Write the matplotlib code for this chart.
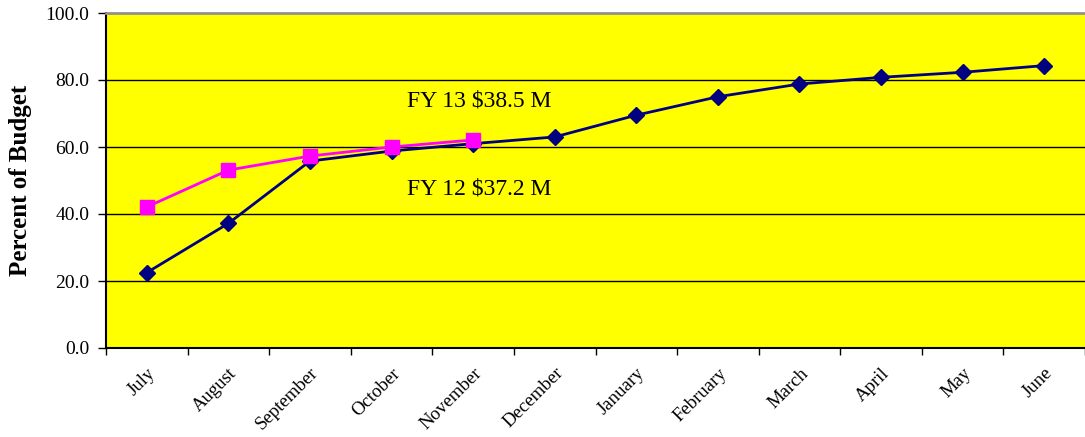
import matplotlib
matplotlib.use("Agg")
import matplotlib.pyplot as plt
import numpy as np

# Months on the category axis
months = ["July", "August", "September", "October", "November", "December",
          "January", "February", "March", "April", "May", "June"]

# Percent of budget spent, cumulative
fy12 = [22.5, 37.2, 55.8, 58.8, 61.0, 63.0, 69.5, 75.0, 78.8, 80.8, 82.3, 84.3]
fy13 = [42.1, 53.1, 57.3, 60.0, 62.1]

yticks = [0, 20, 40, 60, 80, 100]

plt.rcParams['font.family'] = ['Liberation Serif', 'DejaVu Serif']

fig = plt.figure(figsize=(10.85, 4.37), dpi=100)
ax = fig.add_axes([106 / 1085, 89 / 437, 979 / 1085, 335 / 437])
ax.set_facecolor('#FFFF00')

x = np.arange(len(months))
ax.plot(x, fy12, color='#000080', lw=2, marker='D', ms=8, zorder=3)
ax.plot(x[:len(fy13)], fy13, color='#FF00FF', lw=2, marker='s', ms=10, zorder=4)

ax.set_xlim(-0.5, len(months) - 0.5)
ax.set_ylim(0, 100)
ax.set_yticks(yticks)
ax.set_yticklabels([f"{v:.1f}" for v in yticks], fontsize=14)
for v in yticks[1:-1]:
    ax.axhline(v, color='black', lw=1, zorder=1)

# category labels centred, ticks at the boundaries
ax.set_xticks(x)
ax.set_xticklabels(months, rotation=45, ha='right', va='top',
                   rotation_mode='anchor', fontsize=13.5)
ax.tick_params(axis='x', length=0, pad=12)
ax.set_xticks(np.arange(-0.5, len(months), 1), minor=True)
ax.tick_params(axis='x', which='minor', length=5, width=1)
ax.tick_params(axis='y', length=6, width=1, pad=6)

ax.spines['right'].set_visible(False)
ax.spines['top'].set_color('#909090')
ax.spines['top'].set_linewidth(2)
ax.spines['left'].set_linewidth(1.5)
ax.spines['bottom'].set_linewidth(1.5)

ax.set_ylabel("Percent of Budget", fontsize=18, fontweight='bold', labelpad=10)

ax.text(4.07, 73.7, "FY 13 $38.5 M", fontsize=17, ha='center', va='center')
ax.text(4.07, 47.5, "FY 12 $37.2 M", fontsize=17, ha='center', va='center')

fig.savefig("out.png", dpi=100)
